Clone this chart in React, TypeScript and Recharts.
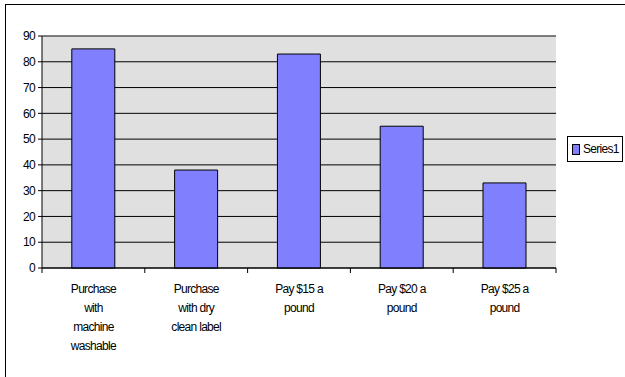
import React from "react";
import {
  Bar,
  BarChart,
  CartesianGrid,
  Legend,
  ReferenceLine,
  XAxis,
  YAxis,
} from "recharts";

const categoryLines: string[][] = [
  ["Purchase", "with", "machine", "washable"],
  ["Purchase", "with dry", "clean label"],
  ["Pay $15 a", "pound"],
  ["Pay $20 a", "pound"],
  ["Pay $25 a", "pound"],
];
const series1 = [85, 38, 83, 55, 33];
const yTicks = [0, 10, 20, 30, 40, 50, 60, 70, 80, 90];

const data = categoryLines.map((lines, i) => ({
  name: lines.join(" "),
  Series1: series1[i],
}));

const FONT = "'Liberation Sans', Arial, sans-serif";

function CategoryTick(props: any) {
  const { x, y, payload, index, visibleTicksCount } = props;
  const half = payload.offset || 0;
  const lines = categoryLines[index] || [];
  return (
    <g>
      <line x1={x - half} x2={x - half} y1={y} y2={y + 5} stroke="#000" />
      {index === visibleTicksCount - 1 && (
        <line x1={x + half} x2={x + half} y1={y} y2={y + 5} stroke="#000" />
      )}
      <text
        x={x}
        y={y + 25}
        textAnchor="middle"
        fontSize={12}
        fontFamily={FONT}
        letterSpacing={-0.7}
        fill="#000"
      >
        {lines.map((l, i) => (
          <tspan key={i} x={x} dy={i === 0 ? 0 : 19}>
            {l}
          </tspan>
        ))}
      </text>
    </g>
  );
}

function LegendBox() {
  return (
    <div
      style={{
        width: 56,
        height: 26,
        boxSizing: "border-box",
        border: "1px solid #000",
        background: "#fff",
        display: "flex",
        alignItems: "center",
        fontFamily: FONT,
        fontSize: 12,
        letterSpacing: -0.7,
        color: "#000",
      }}
    >
      <span
        style={{
          display: "inline-block",
          width: 6,
          height: 9,
          marginLeft: 4,
          marginRight: 3,
          background: "#8080ff",
          border: "1px solid #000",
        }}
      />
      <span>Series1</span>
    </div>
  );
}

export default function App() {
  return (
    <div style={{ position: "absolute", left: 0, top: 0, width: 625, height: 377, background: "#fff" }}>
      <div
        style={{
          position: "absolute",
          left: 5,
          top: 4,
          width: 640,
          height: 400,
          borderTop: "1px solid #000",
          borderLeft: "1px solid #000",
        }}
      />
      <BarChart
        width={625}
        height={377}
        data={data}
        margin={{ top: 36, right: 69, bottom: 0, left: 0 }}
        barCategoryGap="29%"
        style={{ position: "absolute", left: 0, top: 0 }}
      >
        <CartesianGrid vertical={false} stroke="#000" fill="#e0e0e0" fillOpacity={1} />
        <XAxis
          dataKey="name"
          height={109}
          axisLine={{ stroke: "#000" }}
          tickLine={false}
          tickSize={0}
          tickMargin={0}
          interval={0}
          tick={<CategoryTick />}
        />
        <YAxis
          width={42}
          domain={[0, 90]}
          ticks={yTicks}
          interval={0}
          axisLine={{ stroke: "#000" }}
          tickLine={{ stroke: "#000" }}
          tickSize={4}
          tickMargin={3}
          tick={{ fill: "#000", fontSize: 12, fontFamily: FONT, letterSpacing: -0.7 }}
        />
        <YAxis
          yAxisId="frame"
          orientation="right"
          width={0}
          tick={false}
          tickLine={false}
          axisLine={{ stroke: "#808080" }}
        />
        <ReferenceLine y={90} stroke="#808080" />
        <Legend
          layout="vertical"
          align="center"
          verticalAlign="middle"
          wrapperStyle={{ left: 567, top: 136, width: 56 }}
          content={() => <LegendBox />}
        />
        <Bar
          dataKey="Series1"
          fill="#8080ff"
          stroke="#000"
          strokeWidth={1}
          isAnimationActive={false}
        />
      </BarChart>
    </div>
  );
}
